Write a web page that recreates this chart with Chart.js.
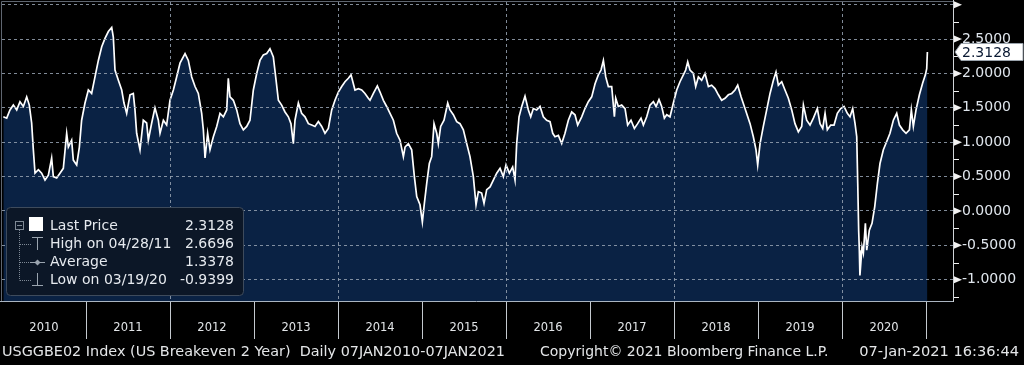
<!DOCTYPE html>
<html><head><meta charset="utf-8">
<script src="https://cdn.jsdelivr.net/npm/chart.js@4.4.1/dist/chart.umd.min.js"></script>
<style>html,body{margin:0;padding:0;background:#000;overflow:hidden}#wrap{width:1024px;height:365px;position:relative}canvas{display:block}</style>
</head><body><div id="wrap"><canvas id="c" width="1024" height="365"></canvas></div>
<script>
// ---- data (decimal year, value) ----
const dates = [
2010.016,2010.056,2010.095,2010.135,2010.175,2010.214,2010.254,2010.294,2010.325,2010.353,2010.373,2010.393,2010.433,2010.472,2010.512,2010.552,2010.591,2010.611,2010.651,2010.690,2010.730,2010.770,2010.790,2010.829,2010.849,2010.889,2010.921,2010.948,2010.988,
2011.028,2011.067,2011.107,2011.147,2011.187,2011.226,2011.266,2011.306,2011.325,2011.345,2011.385,2011.425,2011.452,2011.484,2011.524,2011.563,2011.583,2011.603,2011.643,2011.682,2011.722,2011.742,2011.782,2011.821,2011.861,2011.881,2011.921,2011.960,
2012.000,2012.040,2012.079,2012.119,2012.179,2012.218,2012.258,2012.298,2012.337,2012.377,2012.397,2012.417,2012.448,2012.476,2012.516,2012.556,2012.595,2012.635,2012.675,2012.694,2012.714,2012.754,2012.794,2012.833,2012.873,2012.913,2012.952,2012.992,
2013.032,2013.071,2013.111,2013.151,2013.190,2013.230,2013.258,2013.290,2013.329,2013.369,2013.409,2013.440,2013.468,2013.488,2013.528,2013.567,2013.607,2013.647,2013.687,2013.726,2013.766,2013.806,2013.845,2013.885,2013.925,2013.964,
2014.004,2014.044,2014.083,2014.123,2014.155,2014.202,2014.242,2014.282,2014.321,2014.361,2014.381,2014.421,2014.468,2014.500,2014.540,2014.579,2014.619,2014.659,2014.698,2014.738,2014.778,2014.798,2014.837,2014.877,2014.909,2014.937,2014.976,
2015.004,2015.028,2015.056,2015.087,2015.115,2015.143,2015.175,2015.194,2015.222,2015.262,2015.306,2015.333,2015.373,2015.413,2015.452,2015.492,2015.532,2015.571,2015.611,2015.643,2015.671,2015.710,2015.738,2015.770,2015.810,2015.849,2015.889,2015.929,2015.968,
2016.000,2016.040,2016.079,2016.107,2016.127,2016.155,2016.187,2016.226,2016.266,2016.294,2016.325,2016.365,2016.405,2016.444,2016.484,2016.524,2016.556,2016.583,2016.623,2016.663,2016.702,2016.742,2016.782,2016.821,2016.853,2016.901,2016.940,2016.980,
2017.020,2017.060,2017.099,2017.131,2017.159,2017.187,2017.218,2017.258,2017.290,2017.306,2017.337,2017.377,2017.417,2017.448,2017.488,2017.528,2017.567,2017.607,2017.635,2017.675,2017.714,2017.754,2017.786,2017.821,2017.853,2017.885,2017.913,2017.952,2017.992,
2018.032,2018.071,2018.111,2018.139,2018.163,2018.190,2018.230,2018.258,2018.290,2018.329,2018.369,2018.409,2018.448,2018.488,2018.528,2018.567,2018.607,2018.647,2018.687,2018.726,2018.758,2018.798,2018.837,2018.905,2018.944,2018.976,2018.996,
2019.024,2019.063,2019.103,2019.143,2019.183,2019.214,2019.242,2019.282,2019.321,2019.361,2019.401,2019.440,2019.480,2019.520,2019.540,2019.579,2019.619,2019.659,2019.706,2019.738,2019.770,2019.798,2019.825,2019.865,2019.905,2019.944,2019.984,
2020.024,2020.063,2020.095,2020.127,2020.155,2020.175,2020.187,2020.198,2020.206,2020.213,2020.238,2020.254,2020.278,2020.294,2020.325,2020.357,2020.389,2020.421,2020.452,2020.492,2020.532,2020.571,2020.611,2020.651,2020.683,2020.722,2020.762,2020.802,2020.825,2020.849,2020.881,2020.921,2020.960,2020.992,2021.008,2021.016
];
const values = [
1.37,1.35,1.47,1.54,1.47,1.59,1.52,1.66,1.54,1.28,0.89,0.55,0.60,0.55,0.45,0.52,0.77,0.50,0.48,0.55,0.62,1.13,0.93,1.03,0.74,0.67,0.93,1.32,1.57,
1.76,1.71,1.95,2.19,2.39,2.51,2.61,2.6696,2.53,2.05,1.90,1.76,1.57,1.42,1.69,1.71,1.47,1.13,0.89,1.32,1.28,1.03,1.28,1.50,1.32,1.13,1.32,1.25,
1.61,1.76,1.95,2.15,2.29,2.19,1.95,1.81,1.71,1.42,1.18,0.77,1.13,0.89,1.08,1.23,1.42,1.37,1.47,1.93,1.66,1.61,1.47,1.27,1.18,1.23,1.32,1.76,
2.00,2.19,2.27,2.29,2.36,2.24,1.95,1.61,1.54,1.44,1.37,1.27,0.98,1.32,1.57,1.42,1.37,1.27,1.25,1.23,1.30,1.23,1.13,1.20,1.47,1.61,
1.73,1.81,1.88,1.93,1.98,1.76,1.78,1.76,1.71,1.64,1.61,1.71,1.82,1.73,1.61,1.52,1.42,1.32,1.13,1.03,0.79,0.93,0.98,0.89,0.50,0.21,0.09,
-0.16,0.11,0.40,0.69,0.79,1.27,1.13,0.98,1.23,1.32,1.57,1.47,1.40,1.30,1.27,1.18,0.98,0.79,0.50,0.09,0.28,0.26,0.11,0.31,0.35,0.45,0.55,0.62,0.50,
0.67,0.55,0.64,0.45,0.98,1.37,1.52,1.67,1.47,1.37,1.49,1.47,1.52,1.37,1.32,1.30,1.13,1.08,1.10,0.98,1.13,1.32,1.44,1.40,1.25,1.37,1.49,1.59,
1.66,1.85,1.98,2.05,2.19,1.95,1.81,1.81,1.37,1.64,1.52,1.54,1.49,1.25,1.32,1.20,1.27,1.35,1.25,1.37,1.54,1.59,1.52,1.62,1.52,1.35,1.40,1.37,1.57,
1.76,1.88,1.98,2.05,2.17,2.05,2.00,1.81,1.95,1.90,2.00,1.81,1.83,1.78,1.69,1.61,1.64,1.69,1.71,1.76,1.83,1.66,1.52,1.27,1.08,0.89,0.67,
0.98,1.23,1.47,1.71,1.90,2.02,1.83,1.88,1.76,1.64,1.47,1.27,1.15,1.23,1.54,1.32,1.25,1.35,1.49,1.27,1.20,1.42,1.18,1.25,1.25,1.42,1.49,
1.52,1.42,1.37,1.49,1.27,1.08,0.40,-0.28,-0.57,-0.9399,-0.52,-0.61,-0.18,-0.57,-0.28,-0.18,0.06,0.40,0.69,0.89,1.01,1.13,1.32,1.42,1.25,1.18,1.13,1.18,1.47,1.23,1.47,1.69,1.86,1.98,2.07,2.3128
];
const yearLabels = ['2010','2011','2012','2013','2014','2015','2016','2017','2018','2019','2020'];
const yTickValues = [-1.25,-1.0,-0.75,-0.5,-0.25,0,0.25,0.5,0.75,1.0,1.25,1.5,1.75,2.0,2.25,2.5,2.75,3.0];
const yLabelValues = [-1.0,-0.5,0,0.5,1.0,1.5,2.0,2.5];
const legendLabels = ['Last Price','High on 04/28/11','Average','Low on 03/19/20'];
const legendValues = ['2.3128','2.6696','1.3378','-0.9399'];
const lastPrice = 2.3128;
const footerLeft = 'USGGBE02 Index (US Breakeven 2 Year)  Daily 07JAN2010-07JAN2021';
const footerMid = 'Copyright\u00A9 2021 Bloomberg Finance L.P.';
const footerRight = '07-Jan-2021 16:36:44';

const FONT = '"DejaVu Sans", Verdana, sans-serif';
const GRID = 'rgba(150,162,178,0.85)';

const decor = {
  id: 'decor',
  afterDraw(chart) {
    const {ctx, chartArea: a, scales: {x, y}} = chart;
    ctx.save();
    ctx.lineWidth = 1;
    ctx.strokeStyle = '#5f6670';
    ctx.beginPath(); ctx.moveTo(a.left - 0.5, a.bottom); ctx.lineTo(a.left - 0.5, a.top - 0.5); ctx.lineTo(a.right, a.top - 0.5); ctx.stroke();
    ctx.strokeStyle = '#aab4c0';
    ctx.beginPath(); ctx.moveTo(0, a.bottom + 0.5); ctx.lineTo(a.right, a.bottom + 0.5); ctx.stroke();
    ctx.strokeStyle = '#d0d4d8';
    ctx.beginPath(); ctx.moveTo(a.right + 0.5, 0); ctx.lineTo(a.right + 0.5, a.bottom + 1); ctx.stroke();
    ctx.strokeStyle = '#c4c9cf';
    for (let i = 1; i <= yearLabels.length; i++) {
      const px = Math.round(x.getPixelForValue(Number(yearLabels[0]) + i)) + 0.5;
      ctx.beginPath(); ctx.moveTo(px, a.bottom + 1); ctx.lineTo(px, a.bottom + 38); ctx.stroke();
    }
    ctx.fillStyle = '#f2f2f2'; ctx.strokeStyle = '#f2f2f2';
    yTickValues.forEach(v => {
      const py = y.getPixelForValue(v);
      if (Math.abs(v * 2 - Math.round(v * 2)) < 1e-9) {
        ctx.beginPath(); ctx.moveTo(a.right + 1, py - 3.5); ctx.lineTo(a.right + 1, py + 3.5); ctx.lineTo(a.right + 9, py); ctx.closePath(); ctx.fill();
      } else {
        const p = Math.round(py) + 0.5;
        ctx.beginPath(); ctx.moveTo(a.right + 1, p); ctx.lineTo(a.right + 6, p); ctx.stroke();
      }
    });
    const ty = y.getPixelForValue(lastPrice);
    ctx.beginPath();
    ctx.moveTo(a.right + 2, ty); ctx.lineTo(a.right + 8, ty - 8.5); ctx.lineTo(1023, ty - 8.5); ctx.lineTo(1023, ty + 8.5); ctx.lineTo(a.right + 8, ty + 8.5); ctx.closePath();
    ctx.fillStyle = '#ffffff'; ctx.fill(); ctx.strokeStyle = '#9aa3ad'; ctx.stroke();
    ctx.fillStyle = '#0b1a33'; ctx.font = '14px ' + FONT; ctx.textBaseline = 'middle'; ctx.textAlign = 'left';
    ctx.fillText(legendValues[0], a.right + 9, ty + 1);
    const lx = 6.5, ly = 207.5, lw = 237, lh = 88;
    ctx.beginPath(); ctx.roundRect(lx, ly, lw, lh, 4);
    ctx.fillStyle = '#0c1727'; ctx.fill(); ctx.strokeStyle = '#3e4b5c'; ctx.stroke();
    const rows = [226, 244, 262, 280];
    ctx.strokeStyle = '#7e8995'; ctx.lineWidth = 1;
    ctx.setLineDash([1, 1]);
    ctx.beginPath(); ctx.moveTo(19.5, 230); ctx.lineTo(19.5, rows[3] + 0.5); ctx.stroke();
    [rows[1], rows[2], rows[3]].forEach(r => { ctx.beginPath(); ctx.moveTo(20, r + 0.5); ctx.lineTo(31, r + 0.5); ctx.stroke(); });
    ctx.setLineDash([]);
    ctx.strokeRect(15.5, 221.5, 8, 8);
    ctx.beginPath(); ctx.moveTo(17, 225.5); ctx.lineTo(22, 225.5); ctx.stroke();
    ctx.fillStyle = '#ffffff'; ctx.fillRect(29, 217, 14, 14);
    ctx.strokeStyle = '#9aa4af';
    ctx.beginPath(); ctx.moveTo(32, 237.5); ctx.lineTo(43, 237.5); ctx.moveTo(37.5, 237.5); ctx.lineTo(37.5, 250); ctx.stroke();
    ctx.beginPath(); ctx.moveTo(30, 262.5); ctx.lineTo(45, 262.5); ctx.stroke();
    ctx.fillStyle = '#9aa4af'; ctx.beginPath(); ctx.moveTo(37.5, 259.5); ctx.lineTo(40.5, 262.5); ctx.lineTo(37.5, 265.5); ctx.lineTo(34.5, 262.5); ctx.closePath(); ctx.fill();
    ctx.beginPath(); ctx.moveTo(37.5, 273); ctx.lineTo(37.5, 285.5); ctx.moveTo(32, 285.5); ctx.lineTo(43, 285.5); ctx.stroke();
    ctx.font = '14px ' + FONT; ctx.fillStyle = '#e6eaef'; ctx.textBaseline = 'middle';
    legendLabels.forEach((t, i) => { ctx.textAlign = 'left'; ctx.fillText(t, 50, rows[i]); ctx.textAlign = 'right'; ctx.fillText(legendValues[i], 234, rows[i]); });
    ctx.fillStyle = '#e4e6e8'; ctx.textBaseline = 'middle';
    ctx.font = '14.4px ' + FONT;
    ctx.textAlign = 'left'; ctx.fillText(footerLeft, 2, 352);
    ctx.font = '14px ' + FONT; ctx.fillText(footerMid, 540, 352);
    ctx.font = '14.6px ' + FONT;
    ctx.textAlign = 'right'; ctx.fillText(footerRight, 1019, 352);
    ctx.restore();
  }
};

new Chart(document.getElementById('c'), {
  type: 'line',
  data: { datasets: [{
    data: dates.map((d, i) => ({x: d, y: values[i]})),
    borderColor: '#ffffff', borderWidth: 1.7, backgroundColor: '#0a2244',
    fill: 'start', pointRadius: 0, tension: 0
  }]},
  options: {
    responsive: false, animation: false, devicePixelRatio: 1,
    layout: { padding: { top: 2, left: 2, bottom: 25, right: 0 } },
    plugins: { legend: { display: false }, tooltip: { enabled: false } },
    scales: {
      x: {
        type: 'linear', position: 'bottom', min: 2010, max: 2021.321,
        afterBuildTicks: s => {
          const t = [];
          yearLabels.forEach(l => { t.push({value: Number(l)}); t.push({value: Number(l) + 0.5}); });
          t.push({value: Number(yearLabels[yearLabels.length - 1]) + 1});
          s.ticks = t;
        },
        afterFit: s => { s.height = 39; s.paddingLeft = 0; s.paddingRight = 0; s.paddingTop = 0; s.paddingBottom = 0; },
        ticks: {
          autoSkip: false, maxRotation: 0, minRotation: 0, padding: 20,
          color: '#e2e5e8', font: { family: FONT, size: 11.5 },
          callback: v => Number.isInteger(v) ? '' : String(Math.floor(v))
        },
        grid: {
          drawTicks: false, z: 1, lineWidth: 1,
          color: c => (c.tick && Number.isInteger(c.tick.value) && c.tick.value % 2 === 0 && c.tick.value > 2010 && c.tick.value < 2021) ? GRID : 'transparent'
        },
        border: { display: false, dash: [3, 3] }
      },
      y: {
        position: 'right', min: -1.31, max: 3.04,
        afterBuildTicks: s => { s.ticks = yTickValues.map(v => ({value: v})); },
        afterFit: s => { s.width = 71; s.paddingTop = 0; s.paddingBottom = 0; s.paddingLeft = 0; s.paddingRight = 0; },
        ticks: {
          autoSkip: false, padding: 9, color: '#dfe5ec', font: { family: FONT, size: 14 },
          callback: v => yLabelValues.some(l => Math.abs(l - v) < 1e-9) ? Number(v).toFixed(4) : ''
        },
        grid: {
          drawTicks: false, z: 1, lineWidth: 1,
          color: c => (c.tick && Math.abs(c.tick.value * 2 - Math.round(c.tick.value * 2)) < 1e-9) ? GRID : 'transparent'
        },
        border: { display: false, dash: [3, 3] }
      }
    }
  },
  plugins: [decor]
});
</script></body></html>
